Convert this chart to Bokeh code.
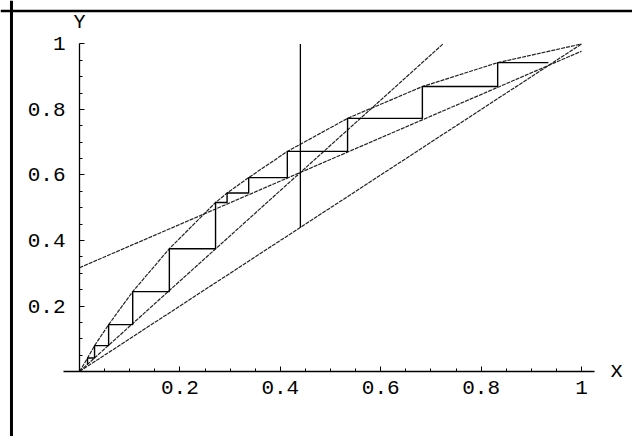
from bokeh.plotting import figure
from bokeh.models import LinearAxis, FixedTicker, Range1d, Label, Span
from bokeh.embed import file_html
from bokeh.resources import INLINE

# ---- data ----
x_ticks = [0.2, 0.4, 0.6, 0.8, 1.0]
x_tick_labels = ["0.2", "0.4", "0.6", "0.8", "1"]
y_ticks = [0.2, 0.4, 0.6, 0.8, 1.0]
y_tick_labels = ["0.2", "0.4", "0.6", "0.8", "1"]
minor_ticks = [0.05, 0.1, 0.15, 0.25, 0.3, 0.35, 0.45, 0.5, 0.55,
               0.65, 0.7, 0.75, 0.85, 0.9, 0.95]

# concave curve f
f_x = [0.0, 0.016, 0.030, 0.058, 0.106, 0.179, 0.271, 0.294, 0.337,
       0.414, 0.534, 0.683, 0.833, 1.0]
f_y = [0.0, 0.041, 0.079, 0.143, 0.244, 0.375, 0.516, 0.545, 0.592,
       0.672, 0.773, 0.870, 0.943, 1.0]

# diagonal y = x
diag_x = [0.0, 1.0]
diag_y = [0.0, 1.0]

# steep line through origin
l1_x = [0.0, 0.724]
l1_y = [0.0, 1.0]

# shallow line with intercept
l2_x = [0.0, 1.0]
l2_y = [0.317, 0.978]

# vertical marker line
vert_x = [0.44, 0.44]
vert_y = [0.44, 1.0]

# staircase vertices
stair_x = [0.016, 0.016, 0.030, 0.030, 0.058, 0.058, 0.106, 0.106, 0.179,
           0.179, 0.271, 0.271, 0.294, 0.294, 0.337, 0.337, 0.414, 0.414,
           0.534, 0.534, 0.683, 0.683, 0.833, 0.833, 0.934]
stair_y = [0.022, 0.041, 0.041, 0.079, 0.079, 0.143, 0.143, 0.244, 0.244,
           0.375, 0.375, 0.516, 0.516, 0.545, 0.545, 0.592, 0.592, 0.672,
           0.672, 0.773, 0.773, 0.870, 0.870, 0.943, 0.943]

FONT = "Liberation Mono"

p = figure(width=632, height=436, output_backend="svg", toolbar_location=None,
           x_range=Range1d(-0.15737, 1.10159), y_range=Range1d(-0.19847, 1.13282),
           x_axis_location=None, y_axis_location=None, min_border=0)
p.grid.grid_line_color = None
p.outline_line_color = None
p.background_fill_color = "white"
p.border_fill_color = "white"

curve_style = dict(line_color="#222222", line_width=1.2, line_dash="4 1")
p.line(f_x, f_y, **curve_style)
p.line(diag_x, diag_y, **curve_style)
p.line(l1_x, l1_y, **curve_style)
p.line(l2_x, l2_y, **curve_style)
p.line(vert_x, vert_y, line_color="black", line_width=1.3)
p.line(stair_x, stair_y, line_color="black", line_width=1.4)

def style_axis(ax, labels, ticks, standoff):
    ax.ticker = FixedTicker(ticks=ticks, minor_ticks=minor_ticks)
    ax.major_label_overrides = {t: s for t, s in zip(ticks, labels)}
    ax.major_tick_in = 5
    ax.major_tick_out = 0
    ax.minor_tick_in = 3
    ax.minor_tick_out = 0
    ax.axis_line_width = 1.3
    ax.axis_line_color = "black"
    ax.major_tick_line_color = "black"
    ax.minor_tick_line_color = "black"
    ax.major_label_text_font = FONT
    ax.major_label_text_font_size = "21px"
    ax.major_label_text_color = "black"
    ax.major_label_standoff = standoff

xaxis = LinearAxis(fixed_location=0, bounds=(-0.032, 1.026))
style_axis(xaxis, x_tick_labels, x_ticks, 9)
p.add_layout(xaxis, "below")

yaxis = LinearAxis(fixed_location=0, bounds=(0, 1.0))
style_axis(yaxis, y_tick_labels, y_ticks, 14)
p.add_layout(yaxis, "left")

p.add_layout(Label(x=1.07, y=0.0, text="x", text_font=FONT, text_font_size="22px",
                   text_align="center", text_baseline="middle", text_color="black"))
p.add_layout(Label(x=0.0, y=1.065, text="Y", text_font=FONT, text_font_size="20px",
                   text_align="center", text_baseline="middle", text_color="black"))

# frame lines (left and top edges of the original box)
p.add_layout(Span(location=-0.1355, dimension="height", line_color="black", line_width=3))
p.add_layout(Span(location=1.1008, dimension="width", line_color="black", line_width=2.5))

open("out.html", "w").write(file_html(p, INLINE))
